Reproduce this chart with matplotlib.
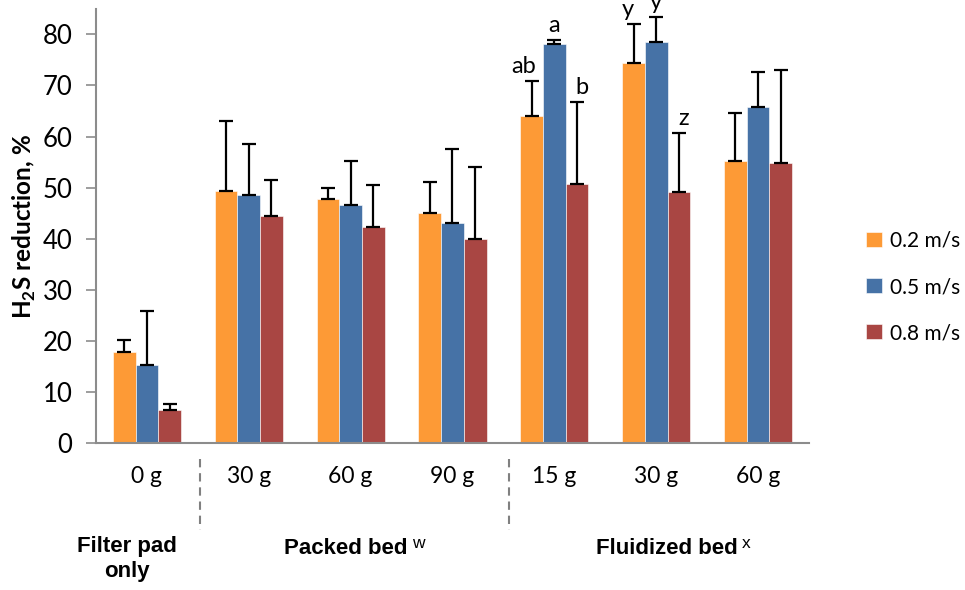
import matplotlib
matplotlib.use("Agg")
import matplotlib.pyplot as plt
import numpy as np

# ---- data -----------------------------------------------------------------
doses = ["0 g", "30 g", "60 g", "90 g", "15 g", "30 g", "60 g"]
speeds = ["0.2 m/s", "0.5 m/s", "0.8 m/s"]
mean_02 = [17.9, 49.3, 47.7, 45.1, 64.0, 74.3, 55.2]
mean_05 = [15.4, 48.5, 46.6, 43.0, 78.0, 78.5, 65.8]
mean_08 = [6.6, 44.5, 42.4, 39.9, 50.7, 49.2, 54.9]
err_02 = [2.4, 13.7, 2.3, 6.0, 6.9, 7.7, 9.4]
err_05 = [10.4, 10.1, 8.6, 14.6, 0.9, 4.9, 6.9]
err_08 = [1.0, 6.9, 8.2, 14.1, 16.1, 11.4, 18.1]
groups = ["Filter pad\nonly", "Packed bed", "Fluidized bed"]
group_sup = ["", "w", "x"]
# significance letters: (category index, series index, letter)
letters = [(4, 0, "ab"), (4, 1, "a"), (4, 2, "b"),
           (5, 0, "y"), (5, 1, "y"), (5, 2, "z")]

# ---- style ----------------------------------------------------------------
COLORS = ["#FD9A36", "#4672A6", "#A94643"]
AXIS = "#8C8C8C"
plt.rcParams["font.family"] = ["Lato", "DejaVu Sans"]
plt.rcParams["mathtext.fontset"] = "custom"
plt.rcParams["mathtext.rm"] = "Lato:bold"
plt.rcParams["mathtext.bf"] = "Lato:bold"
NARROW = ["Liberation Sans Narrow", "Liberation Sans", "DejaVu Sans"]

fig = plt.figure(figsize=(9.65, 5.9), dpi=100)
ax = fig.add_axes([96 / 965, 1 - 443.3 / 590, (809 - 96) / 965, (443.3 - 8.7) / 590])

x = np.arange(len(doses))
w = 0.223
means = [mean_02, mean_05, mean_08]
errs = [err_02, err_05, err_08]
for i, (m, e) in enumerate(zip(means, errs)):
    pos = x + (i - 1) * w
    ax.bar(pos, m, w, color=COLORS[i], edgecolor="white", linewidth=0.4,
           label=speeds[i], zorder=2)
    ax.errorbar(pos, m, yerr=[np.zeros(len(m)), e], fmt="none", ecolor="black",
                elinewidth=1.6, capsize=5, capthick=1.6, zorder=3)

nudge = {(4, 0): -0.08, (4, 1): 0.0, (4, 2): 0.05,
         (5, 0): -0.06, (5, 1): 0.0, (5, 2): 0.05}
for ci, si, lab in letters:
    top = means[si][ci] + errs[si][ci]
    ax.text(ci + (si - 1) * w + nudge[(ci, si)], top + 0.8, lab,
            ha="center", va="bottom", fontsize=17, clip_on=False)

ax.set_xlim(-0.5, len(doses) - 0.5)
ax.set_ylim(0, 85)
ax.set_yticks(np.arange(0, 81, 10))
ax.tick_params(axis="y", labelsize=18.5, length=7, width=1.2, color=AXIS, pad=10)
ax.set_xticks(x)
ax.set_xticklabels(doses, fontsize=16.5)
ax.tick_params(axis="x", length=0, pad=16)
for s in ("top", "right"):
    ax.spines[s].set_visible(False)
for s in ("left", "bottom"):
    ax.spines[s].set_color(AXIS)
    ax.spines[s].set_linewidth(1.5)
ax.set_ylabel(r"H$_2$S reduction, %", fontsize=17.5, fontweight="bold", labelpad=3)

# group separators below the axis
for xb in (0.52, 3.55):
    ax.plot([xb, xb], [-0.035, -0.2], transform=ax.get_xaxis_transform(),
            color="#808080", lw=1.5, ls=(0, (4, 2.8)), clip_on=False)

# group labels
group_x = [-0.2, 1.95, 5.1]
group_y = [-0.266, -0.241, -0.241]
fig.canvas.draw()
r = fig.canvas.get_renderer()
for gx, gy, name, sup in zip(group_x, group_y, groups, group_sup):
    t = ax.text(gx, gy, name, transform=ax.get_xaxis_transform(),
                ha="center", va="center", fontsize=16, fontweight="bold",
                family=NARROW, linespacing=1.3)
    if sup:
        bb = t.get_window_extent(renderer=r)
        fig.text((bb.x1 + 5) / fig.bbox.width, (bb.y1 + 2) / fig.bbox.height, sup,
                 ha="left", va="top", fontsize=12.5, family=NARROW)

ax.legend(loc="center left", bbox_to_anchor=(866 / 965, 1 - 287 / 590),
          bbox_transform=fig.transFigure, frameon=False, fontsize=15,
          handlelength=0.75, handleheight=0.75, handletextpad=0.4,
          labelspacing=1.25, borderpad=0, borderaxespad=0)

fig.savefig("out.png", dpi=100)
